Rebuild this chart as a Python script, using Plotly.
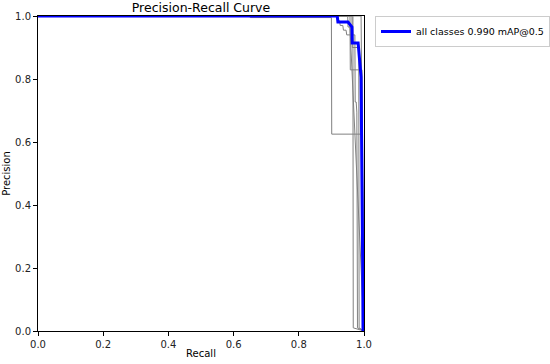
import plotly.graph_objects as go

# Per-class curves (grey)
c1_recall = [0, 0.65, 0.651, 0.90, 0.901, 0.994, 1.0]
c1_prec = [1, 1, 0.995, 0.995, 0.625, 0.625, 0]

c2_recall = [0, 0.918, 0.92, 0.925, 0.927, 0.935, 0.937, 0.945, 0.947, 0.972, 0.973, 0.976, 0.978, 0.98, 1.0]
c2_prec = [1, 1, 0.985, 0.985, 0.97, 0.97, 0.955, 0.955, 0.94, 0.94, 0.727, 0.727, 0.695, 0.01, 0]

c3_recall = [0, 0.957, 0.958, 0.994, 1.0]
c3_prec = [1, 1, 0.829, 0.829, 0]

c4_recall = [0, 0.95, 0.951, 0.957, 1.0]
c4_prec = [1, 1, 0.965, 0.965, 0]

c5_recall = [0, 0.966, 0.967, 1.0]
c5_prec = [1, 1, 0.01, 0]

c6_recall = [0, 0.963, 0.964, 0.984, 0.985, 1.0]
c6_prec = [1, 1, 0.9, 0.9, 0.01, 0]

c7_recall = [0, 0.991, 1.0]
c7_prec = [1, 1, 0]

class_curves = [
    (c1_recall, c1_prec), (c2_recall, c2_prec), (c3_recall, c3_prec),
    (c4_recall, c4_prec), (c5_recall, c5_prec), (c6_recall, c6_prec),
    (c7_recall, c7_prec),
]

# Mean curve (all classes)
mean_recall = [0, 0.918, 0.92, 0.951, 0.963, 0.964, 0.982, 0.985, 0.991, 0.996, 0.997]
mean_prec = [1, 1, 0.981, 0.981, 0.965, 0.914, 0.914, 0.876, 0.806, 0.2, 0]
mean_label = "all classes 0.990 mAP@0.5"

tick_vals = [0, 0.2, 0.4, 0.6, 0.8, 1.0]
tick_text = ["0.0", "0.2", "0.4", "0.6", "0.8", "1.0"]

fig = go.Figure()
for r, p in class_curves:
    fig.add_trace(go.Scatter(x=r, y=p, mode="lines", line=dict(color="#808080", width=1),
                             showlegend=False, hoverinfo="skip"))
fig.add_trace(go.Scatter(x=mean_recall, y=mean_prec, mode="lines",
                         line=dict(color="#0000ff", width=3), name=mean_label))

font = "DejaVu Sans"
axis_common = dict(
    range=[0, 1], tickvals=tick_vals, ticktext=tick_text, ticks="outside", ticklen=4,
    tickwidth=1, tickcolor="#000", showgrid=False, zeroline=False, showline=True,
    linecolor="#000", linewidth=1, mirror=True, automargin=False,
    tickfont=dict(size=10, color="#222", family=font),
)
fig.update_layout(
    width=550, height=364,
    margin=dict(l=38, r=186, t=16, b=33, autoexpand=False),
    paper_bgcolor="white", plot_bgcolor="white",
    font=dict(family=font, size=10, color="#000"),
    title=dict(text="Precision-Recall Curve", x=(38 + 364) / 2 / 550, xanchor="center",
               y=1 - 8 / 364, yanchor="middle", font=dict(size=12.5, family=font, color="#000")),
    xaxis=dict(**axis_common, title=dict(text="Recall", font=dict(size=10, family=font), standoff=0)),
    yaxis=dict(**axis_common, title=dict(text="Precision", font=dict(size=10, family=font), standoff=2)),
    legend=dict(x=(375 - 38) / 326, y=1.0, xanchor="left", yanchor="top", bordercolor="#cccccc",
                borderwidth=1, bgcolor="white", itemwidth=30,
                font=dict(size=9.5, family=font, color="#000")),
    showlegend=True,
)
fig.write_html("out.html", config={"displayModeBar": False},
               post_script="document.body.style.margin='0';")
